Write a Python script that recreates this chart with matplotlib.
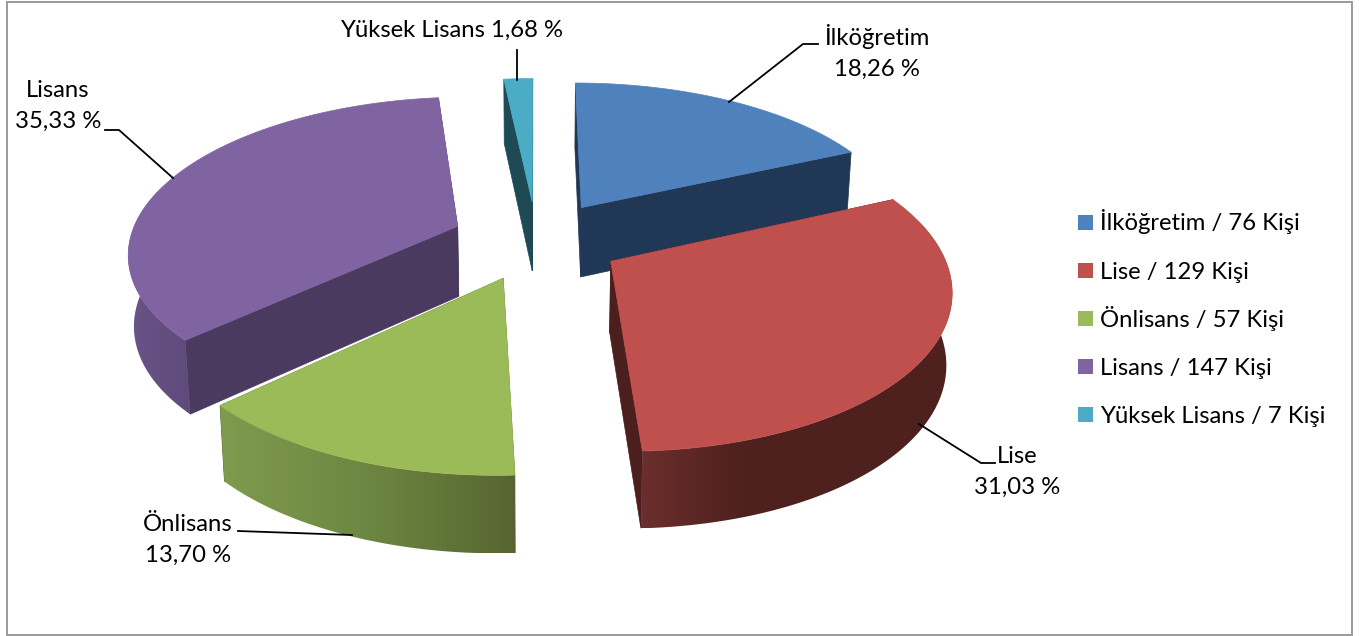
import numpy as np
import matplotlib
matplotlib.use('Agg')
from matplotlib import pyplot as plt
from matplotlib.patches import Polygon, Rectangle
from matplotlib.colors import LinearSegmentedColormap

names = ['İlköğretim', 'Lise', 'Önlisans', 'Lisans', 'Yüksek Lisans']
people = [76, 129, 57, 147, 7]
percents = [18.26, 31.03, 13.70, 35.33, 1.68]
top_colors = ['#4F81BD', '#C0504D', '#9BBB59', '#8064A2', '#4BACC6']
cut_colors = ['#203755', '#4A1F1D', '#4F6030', '#4B3A5F', '#1E4A56']
wall_colors = [
    ['#203755', '#203755'],
    ['#6B2F2C', '#4E201E', '#4E201E', '#4E201E'],
    ['#7F9B4E', '#6C8741', '#566530'],
    ['#6A5488', '#5E4A7B'],
    ['#1E4A56', '#1E4A56'],
]
draw_order = [4, 0, 3, 1, 2]

W, H = 1359, 636
CX, CY = 536.5, 240    # pie centre, pixels
R = 328
A = 0.467              # squash
K = 0.155              # perspective
EXPLODE = 0.26
DEPTH = 70.5
BOTTOM_SCALE = 0.986

plt.rcParams['font.family'] = ['Lato', 'DejaVu Sans']
FS = 17.2


def project(u, v):
    s = 1 / (1 + K * v)
    return CX + R * u * s, CY - R * A * v * s


def drop(x, y, v):
    return CX + (x - CX) * BOTTOM_SCALE, y + DEPTH / (1 + 0.5 * K * v)


def rim(t, mid):
    u = EXPLODE * np.sin(mid) + np.sin(t)
    v = EXPLODE * np.cos(mid) + np.cos(t)
    x, y = project(u, v)
    return x, y, v


fig = plt.figure(figsize=(W / 100, H / 100), dpi=100)
ax = fig.add_axes([0, 0, 1, 1])
ax.axis('off')

edges = np.radians(np.concatenate([[0], np.cumsum(percents)]) * 3.6)

z = 1
for i in draw_order:
    t1, t2 = edges[i], edges[i + 1]
    mid = (t1 + t2) / 2
    ts = np.linspace(t1, t2, max(int(np.degrees(t2 - t1)), 4) * 2)
    xs, ys, vs = rim(ts, mid)
    ev = EXPLODE * np.cos(mid)
    ox, oy = project(EXPLODE * np.sin(mid), ev)

    # cut faces
    for t in (t1, t2):
        x, y, v = rim(t, mid)
        bx, by = drop(x, y, v)
        obx, oby = drop(ox, oy, ev)
        ax.add_patch(Polygon([(ox, oy), (x, y), (bx, by), (obx, oby)], fc=cut_colors[i], ec=cut_colors[i], lw=0.5, zorder=z))
        z += 1

    # outer wall with a left to right gradient
    keep = np.cos(ts) < 0.25
    if keep.sum() > 1:
        bxs, bys = drop(xs[keep], ys[keep], vs[keep])
        wall = np.vstack([np.column_stack([xs[keep], ys[keep]]), np.column_stack([bxs, bys])[::-1]])
        patch = Polygon(wall, fc='none', ec='none')
        ax.add_patch(patch)
        cmap = LinearSegmentedColormap.from_list(f'wall{i}', wall_colors[i])
        grad = np.linspace(0, 1, 256).reshape(1, -1)
        im = ax.imshow(grad, cmap=cmap, aspect='auto', interpolation='bilinear', zorder=z,
                       extent=(wall[:, 0].min(), wall[:, 0].max(), wall[:, 1].max(), wall[:, 1].min()))
        im.set_clip_path(patch)
        z += 1

    pts = [(ox, oy)] + list(zip(xs, ys))
    ax.add_patch(Polygon(pts, fc=top_colors[i], ec=top_colors[i], lw=0.5, zorder=z))
    z += 1

ax.set_xlim(0, W)
ax.set_ylim(H, 0)
ax.add_patch(Rectangle((6.5, 1.5), 1345, 633, fill=False, ec='#9A9A9A', lw=1.4, zorder=z))

# labels and leader lines
label_pos = [(877, 52), (1017, 472), (188, 540), (58, 106), (452, 30)]
leaders = [
    [(729, 102), (803, 44), (818, 44)],
    [(919, 424), (981, 463), (995, 463)],
    [(352, 535), (238, 531)],
    [(173, 178), (119, 130), (105, 130)],
    [(517, 80), (517, 50)],
]
for i in range(len(names)):
    pct = f'{percents[i]:.2f}'.replace('.', ',') + ' %'
    txt = f'{names[i]} {pct}' if i == 4 else f'{names[i]}\n{pct}'
    ax.text(label_pos[i][0], label_pos[i][1], txt, ha='center', va='center', fontsize=FS, linespacing=1.56, color='black', zorder=z)
    ax.plot(*zip(*leaders[i]), color='black', lw=1.3, zorder=z)

# legend, rows at an even pitch
for i in range(len(names)):
    yc = 222.5 + 48.1 * i
    ax.add_patch(Rectangle((1078, yc - 7.5), 15, 15, fc=top_colors[i], ec='none', zorder=z))
    ax.text(1100, yc + 8, f'{names[i]} / {people[i]} Kişi', ha='left', va='baseline', fontsize=FS, color='black', zorder=z)

fig.savefig('out.png', dpi=100)
